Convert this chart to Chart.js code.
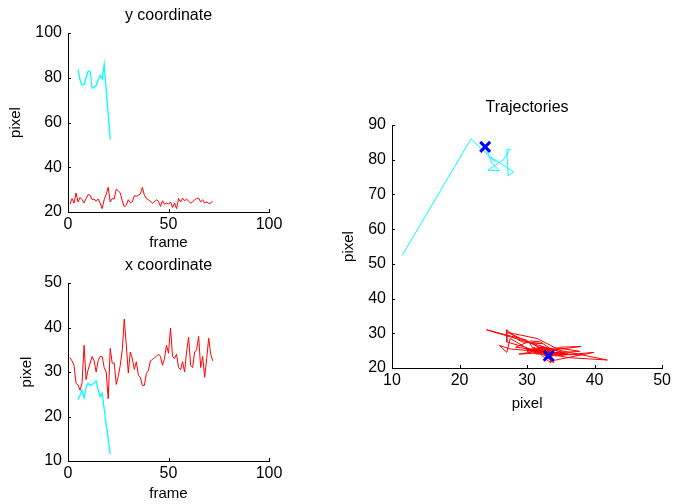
<!DOCTYPE html>
<html>
<head>
<meta charset="utf-8">
<script src="https://cdn.jsdelivr.net/npm/chart.js@4"></script>
<style>
  html, body { margin: 0; padding: 0; background: #fff; overflow: hidden; }
  #wrap { position: relative; width: 674px; height: 504px; }
  canvas { position: absolute; }
</style>
</head>
<body>
<div id="wrap">
  <canvas id="yChart" width="300" height="255" style="left:0px;top:0px"></canvas>
  <canvas id="xChart" width="300" height="254" style="left:0px;top:250px"></canvas>
  <canvas id="trajChart" width="344" height="326" style="left:330px;top:90px"></canvas>
</div>
<script>
// track 1 (red), one sample per frame
const redFrames = Array.from({length: 72}, (_, i) => i + 1);
const redY = [
    23.5, 26, 24, 28.5, 24.5, 26.5, 25.5, 24, 26, 27.8,
    27.5, 25.5, 25.8, 24.8, 25.8, 24, 21.5, 25.5, 28, 31,
    24.5, 26, 25.8, 30.2, 29.5, 28.5, 25, 22.3, 23, 25.5,
    24.2, 24.5, 27.3, 27, 27.5, 28, 31, 27.5, 26, 25.5,
    24.8, 24, 24.5, 25.5, 24.8, 22.5, 25, 23.5, 24, 23.5,
    24.5, 22, 24, 21.5, 26, 24.5, 26.2, 25, 25.8, 24.8,
    24, 24.5, 25.5, 26, 26.2, 24.5, 25.5, 24, 24.5, 23.8,
    24, 25
];
const redX = [
    33.2, 32.5, 31.5, 27.5, 27, 25.9, 27.5, 36, 28.3, 30.5,
    32, 33.5, 32.5, 30, 32.5, 33.5, 33.5, 31, 30, 24,
    35.3, 32, 32, 27.2, 29, 31.5, 35, 41.9, 36, 29.8,
    34.5, 33, 30.6, 32.3, 29.3, 28.8, 27, 27, 29.7, 30.3,
    32.5, 32.8, 33.2, 33.5, 34, 33.5, 31.5, 33, 36, 34.2,
    39.9, 33.5, 33, 34, 31, 30.5, 32.3, 30, 34.5, 37.8,
    31.5, 31, 34.5, 35, 38, 31, 33.5, 28.8, 33, 37.6,
    34, 32.5
];

// track 2 (cyan)
const cyanFrames = [5, 6, 7, 8, 9, 10, 11, 12, 13, 14, 15, 16, 17, 18, 21];
const cyanY = [83.7, 79, 76.8, 77, 80, 83, 83, 75.4, 75.8, 76.5, 79, 81, 79.5, 86, 52.4];
const cyanX = [23.8, 24.8, 25.9, 24.2, 26.5, 27.5, 27, 27.2, 27.5, 28, 26, 24.4, 25.2, 21.7, 11.5];

Chart.defaults.font.family = '"Liberation Sans", Arial, Helvetica, sans-serif';
Chart.defaults.font.size = 16;
Chart.defaults.color = '#000';

const pairs = (xs, ys) => xs.map((x, i) => ({x: x, y: ys[i]}));

// panel title above the plot area + small inward tick marks (matlab style)
const matlabLook = {
    id: 'matlabLook',
    afterDraw(chart, args, opts) {
        const ctx = chart.ctx;
        const a = chart.chartArea;
        ctx.save();
        ctx.strokeStyle = '#000';
        ctx.lineWidth = 1;
        const xs = chart.scales.x, ys = chart.scales.y;
        xs.ticks.forEach(t => {
            const px = Math.round(xs.getPixelForValue(t.value)) + 0.5;
            ctx.beginPath();
            ctx.moveTo(px, a.bottom);
            ctx.lineTo(px, a.bottom - 3);
            ctx.stroke();
        });
        ys.ticks.forEach(t => {
            const py = Math.round(ys.getPixelForValue(t.value)) + 0.5;
            ctx.beginPath();
            ctx.moveTo(a.left, py);
            ctx.lineTo(a.left + 3, py);
            ctx.stroke();
        });
        ctx.fillStyle = '#000';
        ctx.font = '16px "Liberation Sans", Arial, sans-serif';
        ctx.textAlign = 'center';
        ctx.textBaseline = 'middle';
        ctx.fillText(opts.text, (a.left + a.right) / 2, a.top - 17);
        ctx.restore();
    }
};

function axisX(min, max, step, label, height, titlePad) {
    return {
        type: 'linear', min: min, max: max,
        ticks: {stepSize: step, padding: 3},
        grid: {display: false, drawTicks: false},
        border: {color: '#000', width: 1},
        title: {display: true, text: label, font: {size: 15}, padding: {top: 4, bottom: titlePad}},
        afterFit: s => { s.height = height; }
    };
}

function axisY(min, max, step, label, width, titlePad) {
    return {
        type: 'linear', min: min, max: max,
        ticks: {stepSize: step, padding: 6},
        grid: {display: false, drawTicks: false},
        border: {color: '#000', width: 1},
        title: {display: true, text: label, font: {size: 15}, padding: {top: titlePad, bottom: 4}},
        afterFit: s => { s.width = width; }
    };
}

const lineStyle = {pointRadius: 0, tension: 0, fill: false};

new Chart(document.getElementById('yChart'), {
    type: 'line',
    data: {
        datasets: [
            Object.assign({label: 'track 2', data: pairs(cyanFrames, cyanY), borderColor: '#00ffff', borderWidth: 1.3}, lineStyle),
            Object.assign({label: 'track 1', data: pairs(redFrames, redY), borderColor: '#ff0000', borderWidth: 1}, lineStyle)
        ]
    },
    options: {
        responsive: false,
        animation: false,
        layout: {padding: {top: 33, right: 31, left: 0, bottom: 0}},
        plugins: {legend: {display: false}, tooltip: {enabled: false}, matlabLook: {text: 'y coordinate'}},
        scales: {
            x: axisX(0, 100, 50, 'frame', 43, 3),
            y: axisY(20, 100, 20, 'pixel', 68, 7)
        }
    },
    plugins: [matlabLook]
});

new Chart(document.getElementById('xChart'), {
    type: 'line',
    data: {
        datasets: [
            Object.assign({label: 'track 1', data: pairs(redFrames, redX), borderColor: '#ff0000', borderWidth: 1}, lineStyle),
            Object.assign({label: 'track 2', data: pairs(cyanFrames, cyanX), borderColor: '#00ffff', borderWidth: 1.3}, lineStyle)
        ]
    },
    options: {
        responsive: false,
        animation: false,
        layout: {padding: {top: 33, right: 31, left: 0, bottom: 0}},
        plugins: {legend: {display: false}, tooltip: {enabled: false}, matlabLook: {text: 'x coordinate'}},
        scales: {
            x: axisX(0, 100, 50, 'frame', 43, 1),
            y: axisY(10, 50, 10, 'pixel', 68, 18)
        }
    },
    plugins: [matlabLook]
});

new Chart(document.getElementById('trajChart'), {
    type: 'scatter',
    data: {
        datasets: [
            {label: 'start', data: [pairs(redX, redY)[0], pairs(cyanX, cyanY)[0]], showLine: false,
             pointStyle: 'crossRot', pointRadius: 7, borderColor: '#0000ff', borderWidth: 3},
            Object.assign({label: 'track 2', data: pairs(cyanX, cyanY), showLine: true, borderColor: '#00ffff', borderWidth: 1}, lineStyle),
            Object.assign({label: 'track 1', data: pairs(redX, redY), showLine: true, borderColor: '#ff0000', borderWidth: 1}, lineStyle)
        ]
    },
    options: {
        responsive: false,
        animation: false,
        layout: {padding: {top: 35, right: 9, left: 0, bottom: 0}},
        plugins: {legend: {display: false}, tooltip: {enabled: false}, matlabLook: {text: 'Trajectories'}},
        scales: {
            x: axisX(10, 50, 10, 'pixel', 48, 3),
            y: axisY(20, 90, 10, 'pixel', 62, 10)
        }
    },
    plugins: [matlabLook]
});
</script>
</body>
</html>
